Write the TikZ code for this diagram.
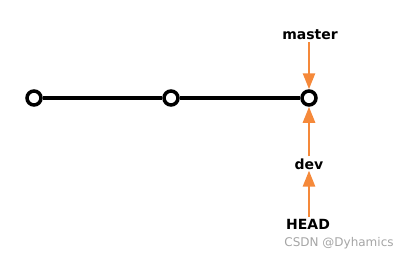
\documentclass[tikz,border=0pt]{standalone}
\usepackage{fontspec}
\setmainfont{DejaVu Sans}
\usetikzlibrary{arrows.meta}
\definecolor{arrorange}{RGB}{245,137,58}
\definecolor{wmgray}{RGB}{165,165,165}
\tikzset{
  commit/.style={circle, draw=black, line width=3.5pt, fill=white, minimum size=14pt, inner sep=0pt},
  branchline/.style={line width=3.8pt, black},
  label/.style={font=\bfseries\fontsize{14}{16}\selectfont, inner sep=1pt},
  ptr/.style={arrorange, line width=2.5pt, -{Triangle[width=12pt,length=16pt]}, shorten <=1pt, shorten >=0pt},
  watermark/.style={font=\fontsize{12}{14}\selectfont, text=wmgray, inner sep=0pt}
}
\begin{document}
\begin{tikzpicture}[x=1pt,y=-1pt]
\useasboundingbox (0,0) rectangle (404,262);
\node[commit] (c1) at (34,98) {};
\node[commit] (c2) at (171,98) {};
\node[commit] (c3) at (309,98) {};
\draw[branchline] (c1) -- (c2);
\draw[branchline] (c2) -- (c3);
\node[label] (master) at (310,35) {master};
\node[label] (dev) at (309,164) {dev};
\node[label] (head) at (308,224) {HEAD};
\draw[ptr] (master.south -| c3) -- (c3.north);
\draw[ptr] (dev.north -| c3) -- (c3.south);
\draw[ptr] (head.north -| c3) -- (dev.south -| c3);
\node[watermark] (wm) at (339,243) {CSDN @Dyhamics};
\end{tikzpicture}
\end{document}
